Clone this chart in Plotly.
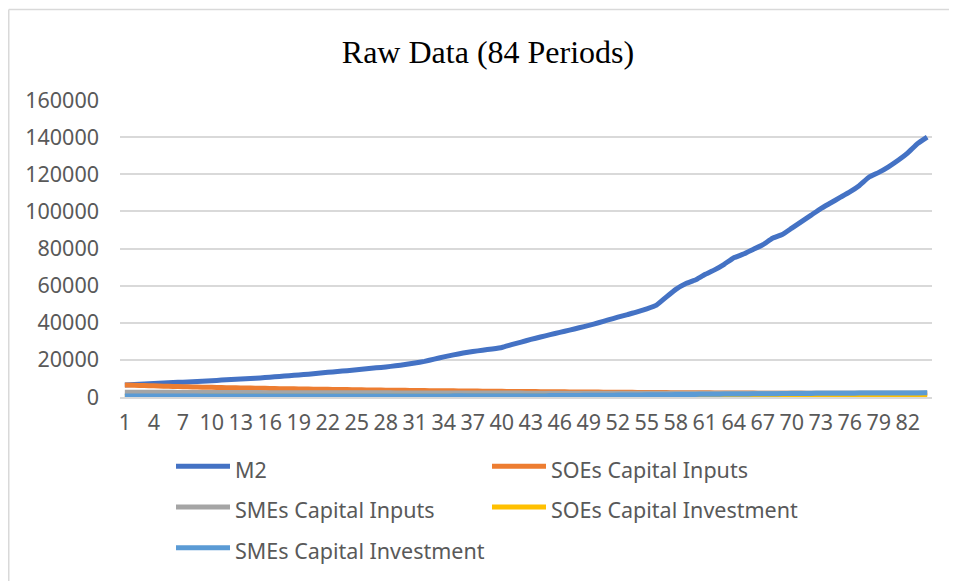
import plotly.graph_objects as go

periods = list(range(1, 85))
tick_vals = list(range(1, 84, 3))
tick_text = [str(v) for v in tick_vals]
y_ticks = [0, 20000, 40000, 60000, 80000, 100000, 120000, 140000, 160000]
y_tick_text = ["0", "20000", "40000", "60000", "80000", "100000", "120000", "140000", "160000"]

m2 = [6400, 6700, 7000, 7300, 7500, 7800, 8000, 8200, 8500, 8800,
      9100, 9400, 9700, 10000, 10300, 10700, 11100, 11500, 11900, 12300,
      12800, 13300, 13700, 14200, 14700, 15200, 15700, 16200, 16800, 17500,
      18300, 19200, 20400, 21600, 22700, 23700, 24500, 25200, 25900, 26700,
      28200, 29600, 31000, 32300, 33600, 34800, 36000, 37300, 38600, 40000,
      41500, 43000, 44400, 45800, 47500, 49500, 53800, 58000, 61000, 63000,
      66000, 68500, 71500, 75000, 77000, 79500, 82000, 85500, 87500, 91000,
      94500, 98000, 101500, 104500, 107500, 110500, 114000, 118500, 121000, 124000,
      127500, 131500, 136500, 140000]

soe_inputs = [6500, 6300, 6150, 6000, 5850, 5700, 5550, 5400, 5300, 5200,
              5100, 5000, 4900, 4800, 4700, 4600, 4500, 4420, 4350, 4280,
              4200, 4120, 4050, 3980, 3900, 3830, 3770, 3700, 3640, 3580,
              3520, 3460, 3400, 3350, 3300, 3250, 3200, 3150, 3100, 3050,
              3000, 2960, 2920, 2880, 2840, 2800, 2760, 2720, 2680, 2640,
              2600, 2560, 2520, 2480, 2440, 2400, 2360, 2330, 2300, 2270,
              2240, 2210, 2180, 2150, 2120, 2090, 2060, 2030, 2000, 1980,
              1960, 1940, 1920, 1900, 1880, 1860, 1840, 1820, 1800, 1780,
              1760, 1740, 1720, 1700]

sme_inputs = [2600, 2580, 2560, 2540, 2520, 2500, 2480, 2460, 2440, 2420,
              2400, 2390, 2380, 2370, 2360, 2350, 2340, 2330, 2320, 2310,
              2300, 2290, 2280, 2270, 2260, 2250, 2240, 2230, 2220, 2210,
              2200, 2190, 2180, 2170, 2160, 2150, 2140, 2130, 2120, 2110,
              2100, 2090, 2080, 2070, 2060, 2050, 2040, 2030, 2020, 2010,
              2000, 2000, 2000, 2000, 2000, 2000, 2000, 2000, 2000, 2000,
              2000, 2010, 2020, 2030, 2040, 2050, 2060, 2070, 2080, 2090,
              2100, 2100, 2100, 2100, 2100, 2100, 2100, 2100, 2100, 2100,
              2100, 2100, 2100, 2100]

soe_invest = [300, 300, 310, 310, 320, 320, 330, 330, 340, 340,
              350, 350, 360, 360, 370, 370, 380, 380, 390, 390,
              400, 400, 410, 410, 420, 420, 430, 430, 440, 440,
              450, 450, 460, 460, 470, 470, 480, 480, 490, 490,
              500, 510, 520, 530, 540, 550, 560, 570, 580, 590,
              600, 610, 620, 630, 640, 650, 660, 670, 680, 690,
              700, 705, 710, 715, 720, 725, 730, 735, 740, 745,
              750, 755, 760, 765, 770, 775, 780, 785, 790, 795,
              800, 800, 800, 800]

sme_invest = [500, 505, 510, 515, 520, 525, 530, 535, 540, 545,
              550, 550, 555, 555, 560, 560, 565, 565, 570, 570,
              575, 575, 580, 580, 585, 585, 590, 590, 595, 595,
              600, 600, 605, 605, 610, 610, 615, 615, 620, 620,
              640, 660, 690, 720, 750, 780, 820, 860, 900, 940,
              980, 1020, 1060, 1100, 1150, 1200, 1250, 1300, 1350, 1400,
              1450, 1500, 1550, 1600, 1650, 1700, 1740, 1780, 1820, 1860,
              1900, 1940, 1970, 2000, 2030, 2060, 2090, 2110, 2130, 2150,
              2170, 2190, 2210, 2230]

series_names = ["M2", "SOEs Capital Inputs", "SMEs Capital Inputs",
                "SOEs Capital Investment", "SMEs Capital Investment"]
series_values = [m2, soe_inputs, sme_inputs, soe_invest, sme_invest]
series_colors = ["#4472C4", "#ED7D31", "#A5A5A5", "#FFC000", "#5B9BD5"]

TXT_SIZE = 21.5

fig = go.Figure()
for name, vals, color in zip(series_names, series_values, series_colors):
    fig.add_trace(go.Scatter(
        x=periods, y=vals, mode="lines",
        name=f'<span style="font-size:{TXT_SIZE}px">{name}</span>',
        line=dict(color=color, width=5, shape="spline", smoothing=0.3),
    ))

# the page body adds an 8px offset; figure coordinates are page coordinates minus 8
W, H = 949, 573
ml, mr, mt, mb = 112, 25, 92, 184
pw = W - ml - mr
ph = H - mt - mb

fig.update_layout(
    width=W, height=H,
    margin=dict(l=ml, r=mr, t=mt, b=mb, pad=0, autoexpand=False),
    paper_bgcolor="white", plot_bgcolor="white",
    title=dict(text="Raw Data (84 Periods)", x=(488 - 8) / W, xanchor="center",
               y=1 - 44 / H, yanchor="middle",
               font=dict(family="Liberation Serif, Times New Roman, serif", size=32, color="#000000")),
    font=dict(family="Noto Sans, sans-serif", size=TXT_SIZE, color="#595959"),
    xaxis=dict(range=[0.5, 84.5], tickmode="array", tickvals=tick_vals, ticktext=tick_text,
               showgrid=False, zeroline=False, showline=True, linecolor="#D9D9D9", linewidth=1.5,
               ticks="", ticklabelstandoff=5, automargin=False,
               tickfont=dict(size=TXT_SIZE, color="#595959"), fixedrange=True),
    yaxis=dict(range=[0, 160000], tickmode="array", tickvals=y_ticks, ticktext=y_tick_text,
               showgrid=True, gridcolor="#D9D9D9", gridwidth=1.5, zeroline=False,
               showline=False, ticks="", ticklabelstandoff=20, automargin=False,
               tickfont=dict(size=TXT_SIZE, color="#595959"), fixedrange=True),
    legend=dict(orientation="h", xref="container", yref="container",
                x=163 / W, xanchor="left",
                y=1 - 433 / H, yanchor="top",
                itemwidth=54, entrywidth=247, entrywidthmode="pixels",
                font=dict(size=29, color="#595959"), bgcolor="rgba(0,0,0,0)",
                traceorder="normal"),
    showlegend=True,
)

# outer chart frame (top and left edges visible)
fig.add_shape(type="line", xref="paper", yref="paper",
              x0=(0.75 - ml) / pw, x1=(W + 5 - ml) / pw,
              y0=1 + (mt - 1.5) / ph, y1=1 + (mt - 1.5) / ph,
              line=dict(color="#D9D9D9", width=1.5), layer="below")
fig.add_shape(type="line", xref="paper", yref="paper",
              x0=(0.75 - ml) / pw, x1=(0.75 - ml) / pw,
              y0=-(H + 5 - (mt + ph)) / ph, y1=1 + (mt - 1.5) / ph,
              line=dict(color="#D9D9D9", width=1.5), layer="below")

fig.write_html("out.html")
